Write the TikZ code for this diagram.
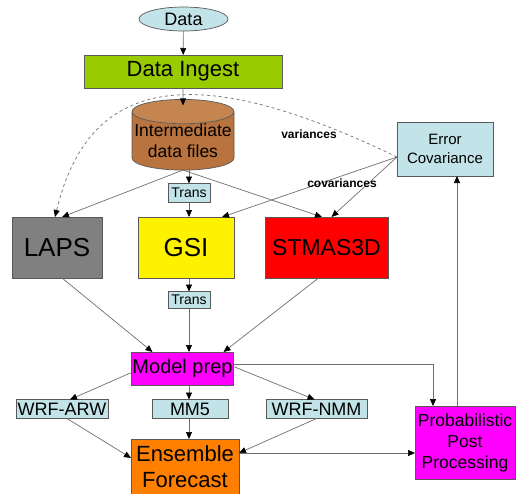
\documentclass[tikz,border=0pt]{standalone}
\usepackage{fontspec}
\setmainfont{Liberation Sans}
\usetikzlibrary{shapes.geometric,arrows.meta}
\definecolor{paleblue}{HTML}{C2E3E8}
\definecolor{ingestgreen}{HTML}{99CC00}
\definecolor{filebrown}{HTML}{B8733E}
\definecolor{filetop}{HTML}{C48550}
\definecolor{lapsgray}{HTML}{808080}
\definecolor{ensorange}{HTML}{FF8000}
\definecolor{prepmagenta}{HTML}{FF00FF}
\definecolor{linegray}{HTML}{6E6E6E}
\tikzset{
flow/.style={draw=linegray, line width=0.7pt, -{Triangle[color=black,length=7pt,width=6pt]}}, % connectors
box/.style={draw=gray!70!black, line width=0.7pt, inner sep=0pt, outer sep=0pt, align=center},
tagbox/.style={box, fill=paleblue, minimum height=19, font=\fontsize{18}{18}\selectfont},
bigbox/.style={box, minimum height=61, font=\fontsize{26}{26}\selectfont},
lbl/.style={font=\bfseries\fontsize{12}{12}\selectfont}
}
\begin{document}
\begin{tikzpicture}[x=1pt,y=-1pt]
\useasboundingbox (0,0) rectangle (516,493);
% source and ingest
\node[box, ellipse, fill=paleblue, minimum width=89, minimum height=24, font=\fontsize{18}{18}\selectfont] (data) at (183.5,19) {Data};
\node[box, fill=ingestgreen, minimum width=198, minimum height=33, font=\fontsize{22}{22}\selectfont] (ingest) at (183,71.5) {Data Ingest};
\node[box, cylinder, shape border rotate=90, aspect=0.25, minimum width=102, minimum height=62,
  cylinder uses custom fill, cylinder body fill=filebrown, cylinder end fill=filetop,
  font=\fontsize{17.5}{21}\selectfont] (files) at (183,141) {Intermediate\\data files};
\node[tagbox, minimum width=42, font=\fontsize{14}{14}\selectfont] (trans1) at (189,193) {Trans};
% analysis systems
\node[bigbox, fill=lapsgray, minimum width=90] (laps) at (57,247.5) {LAPS};
\node[bigbox, fill=yellow, minimum width=96] (gsi) at (186,247.5) {GSI};
\node[bigbox, fill=red, minimum width=123, font=\fontsize{23}{23}\selectfont] (stmas) at (326.5,247.5) {STMAS3D};
\node[tagbox, minimum width=42, minimum height=17, font=\fontsize{14}{14}\selectfont] (trans2) at (189,300) {Trans};
\node[box, fill=paleblue, minimum width=96, minimum height=54, font=\fontsize{15}{19}\selectfont] (errcov) at (445,149) {Error\\Covariance};
% models
\node[box, fill=prepmagenta, minimum width=102, minimum height=33, font=\fontsize{20}{20}\selectfont] (mprep) at (182.5,368.5) {Model prep};
\node[tagbox, minimum width=92] (arw) at (62,409) {WRF-ARW};
\node[tagbox, minimum width=76] (mm5) at (190,409) {MM5};
\node[tagbox, minimum width=101] (nmm) at (316.5,409) {WRF-NMM};
\node[bigbox, fill=ensorange, minimum width=108, minimum height=56, font=\fontsize{22}{26}\selectfont] (ens) at (185,467) {Ensemble\\Forecast};
\node[box, fill=prepmagenta, minimum width=100, minimum height=73, font=\fontsize{17.5}{21}\selectfont] (ppp) at (465,442.5) {Probabilistic\\Post\\Processing};
\coordinate (errin) at ([yshift=-8pt]errcov.west);
% connectors
\draw[flow] (data) -- (ingest);
\draw[flow] (ingest) -- ([yshift=-6pt]files.north);
\draw[flow] (trans1 |- files.south) -- (trans1);
\draw[flow] (trans1) -- (trans1 |- gsi.north);
\draw[flow] (files.south) -- ([xshift=5pt]laps.north);
\draw[flow] (files.south) -- ([xshift=-4.5pt]stmas.north);
\draw[flow, dashed] (errin) .. controls (200,62) and (90,72) .. ([xshift=-2pt]laps.north);
\draw[flow] (errin) -- ([xshift=36pt]gsi.north);
\draw[flow] (errin) -- ([xshift=5pt]stmas.north);
\node[lbl] (varlbl) at (309,134) {variances};
\node[lbl] (covlbl) at (342,183) {covariances};
\draw[flow] ([xshift=5pt]laps.south) -- ([xshift=-30pt]mprep.north);
\draw[flow] (trans2 |- gsi.south) -- (trans2);
\draw[flow] (trans2) -- (trans2 |- mprep.north);
\draw[flow] ([xshift=-8pt]stmas.south) -- ([xshift=41pt]mprep.north);
\draw[flow] ([yshift=-4pt]mprep.west) -- ([xshift=8pt]arw.north);
\draw[flow] (trans2 |- mprep.south) -- (trans2 |- mm5.north);
\draw[flow] ([yshift=2pt]mprep.east) -- ([xshift=-2pt]nmm.north);
\draw[flow] ([yshift=4pt]mprep.east) -| ([xshift=-32pt]ppp.north);
\draw[flow] ([xshift=5pt]arw.south) -- ([yshift=9pt]ens.west);
\draw[flow] (trans2 |- mm5.south) -- (trans2 |- ens.north);
\draw[flow] (nmm.south) -- ([yshift=14pt]ens.east);
\draw[flow] ([yshift=14pt]ens.east) -- ([yshift=14pt]ens.east -| ppp.west);
\draw[flow] ([xshift=-8pt]ppp.north) -- ([xshift=-8pt]ppp.north |- errcov.south);
\end{tikzpicture}
\end{document}
